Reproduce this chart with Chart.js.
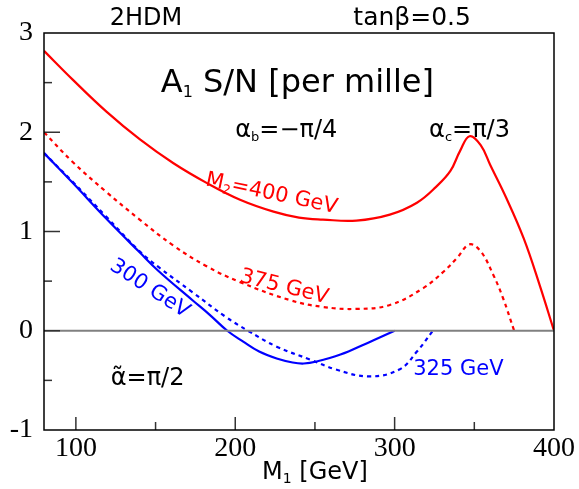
<!DOCTYPE html>
<html>
<head>
<meta charset="utf-8">
<script src="https://cdn.jsdelivr.net/npm/chart.js@4/dist/chart.umd.min.js"></script>
<style>
  body { margin: 0; background: #fff; }
  canvas { display: block; }
</style>
</head>
<body>
<canvas id="grafico" width="579" height="489"></canvas>
<script>
// M1 [GeV] / S/N [per mille]
var m400X = [80, 98, 119, 140, 161, 182, 203, 224, 240, 255, 276, 297, 314, 326, 335, 341, 347, 354, 360, 370, 381, 391, 400];
var m400Y = [2.82, 2.53, 2.21, 1.93, 1.69, 1.49, 1.32, 1.20, 1.14, 1.12, 1.11, 1.17, 1.29, 1.45, 1.61, 1.81, 1.96, 1.87, 1.67, 1.34, 0.93, 0.46, 0];

var m375X = [80, 98, 119, 140, 161, 182, 203, 234, 255, 276, 297, 318, 331, 339, 347, 354, 362, 368, 375];
var m375Y = [2.00, 1.70, 1.40, 1.12, 0.86, 0.65, 0.49, 0.31, 0.24, 0.22, 0.26, 0.43, 0.60, 0.73, 0.87, 0.80, 0.56, 0.33, 0];

var m300X = [80, 98, 119, 140, 152, 173, 184, 195, 205, 215, 226, 236, 243, 251, 266, 282, 300];
var m300Y = [1.79, 1.49, 1.13, 0.79, 0.60, 0.31, 0.16, 0, -0.11, -0.21, -0.28, -0.32, -0.33, -0.31, -0.24, -0.13, 0];

var m325X = [80, 98, 119, 140, 152, 173, 194, 208, 226, 247, 263, 284, 303, 314, 324];
var m325Y = [1.79, 1.50, 1.15, 0.80, 0.64, 0.39, 0.14, 0, -0.16, -0.29, -0.39, -0.46, -0.39, -0.21, 0];

var zeroX = [80, 400];
var zeroY = [0, 0];

var xTicksLabel = [100, 200, 300, 400];
var yTicksLabel = [-1, 0, 1, 2, 3];

function pontos(xs, ys) {
    var arr = [];
    for (var i = 0; i < xs.length; i++) {
        arr.push({ x: xs[i], y: ys[i] });
    }
    return arr;
}

var fonte = "'DejaVu Sans', sans-serif";

// texto com subscritos: runs = [texto, tamanho, deslocamento]
function textoRico(ctx, runs, x, y, ang, cor) {
    var total = 0;
    for (var i = 0; i < runs.length; i++) {
        ctx.font = runs[i][1] + 'px ' + fonte;
        total += ctx.measureText(runs[i][0]).width;
    }
    var base = runs[0][1] * 0.36;
    ctx.save();
    ctx.translate(x, y);
    ctx.rotate(ang * Math.PI / 180);
    ctx.fillStyle = cor;
    ctx.textBaseline = 'alphabetic';
    ctx.textAlign = 'left';
    var px = -total / 2;
    for (var i = 0; i < runs.length; i++) {
        ctx.font = runs[i][1] + 'px ' + fonte;
        ctx.fillText(runs[i][0], px, base + runs[i][2]);
        px += ctx.measureText(runs[i][0]).width;
    }
    ctx.restore();
}

var rotulos = [
    { x: 144, y: 3.17, ang: 0, cor: '#000', runs: [['2HDM', 24, 0]] },
    { x: 311, y: 3.17, ang: 0, cor: '#000', runs: [['tanβ=0.5', 25, 0]] },
    { x: 239, y: 2.52, ang: 0, cor: '#000', runs: [['A', 32, 0], ['1', 16, 5], [' S/N [per mille]', 32, 0]] },
    { x: 232, y: 2.04, ang: 0, cor: '#000', runs: [['α', 24, 0], ['b', 13, 4], ['=−π/4', 24, 0]] },
    { x: 347, y: 2.04, ang: 0, cor: '#000', runs: [['α', 24, 0], ['c', 13, 4], ['=π/3', 24, 0]] },
    { x: 223, y: 1.40, ang: 12, cor: '#ff0000', runs: [['M', 21, 0], ['2', 13, 4], ['=400 GeV', 21, 0]] },
    { x: 231, y: 0.46, ang: 14, cor: '#ff0000', runs: [['375 GeV', 21, 0]] },
    { x: 147, y: 0.44, ang: 33, cor: '#0000ff', runs: [['300 GeV', 21, 0]] },
    { x: 340, y: -0.37, ang: 0, cor: '#0000ff', runs: [['325 GeV', 21, 0]] },
    { x: 145, y: -0.46, ang: 0, cor: '#000', runs: [['α\u0303=π/2', 24, 0]] },
    { x: 250, y: -1.41, ang: 0, cor: '#000', runs: [['M', 24, 0], ['1', 14, 4], [' [GeV]', 24, 0]] }
];

var moldura = {
    id: 'moldura',
    afterDatasetsDraw: function(chart) {
        var ctx = chart.ctx;
        var a = chart.chartArea;
        var sx = chart.scales.x;
        var sy = chart.scales.y;
        ctx.save();
        ctx.strokeStyle = '#333';
        ctx.lineWidth = 1.5;
        // ticks para dentro
        for (var v = 100; v < 400; v += 50) {
            var px = sx.getPixelForValue(v);
            var len = (v % 100 == 0) ? 13 : 8;
            ctx.beginPath();
            ctx.moveTo(px, a.bottom);
            ctx.lineTo(px, a.bottom - len);
            ctx.stroke();
        }
        for (var w = -0.5; w < 3; w += 0.5) {
            var py = sy.getPixelForValue(w);
            var len2 = (w % 1 == 0) ? 16 : 8;
            ctx.beginPath();
            ctx.moveTo(a.left, py);
            ctx.lineTo(a.left + len2, py);
            ctx.stroke();
        }
        ctx.strokeStyle = '#000';
        ctx.lineWidth = 1.5;
        ctx.strokeRect(a.left, a.top, a.right - a.left, a.bottom - a.top);

        for (var i = 0; i < rotulos.length; i++) {
            var r = rotulos[i];
            textoRico(ctx, r.runs, sx.getPixelForValue(r.x), sy.getPixelForValue(r.y), r.ang, r.cor);
        }
        ctx.restore();
    }
};

var ctx = document.getElementById('grafico').getContext('2d');

new Chart(ctx, {
    type: 'scatter',
    data: {
        datasets: [
            { data: pontos(zeroX, zeroY), borderColor: '#808080', borderWidth: 2 },
            { data: pontos(m400X, m400Y), borderColor: '#ff0000', borderWidth: 2.2 },
            { data: pontos(m375X, m375Y), borderColor: '#ff0000', borderWidth: 2.2, borderDash: [4, 4] },
            { data: pontos(m300X, m300Y), borderColor: '#0000ff', borderWidth: 2.2 },
            { data: pontos(m325X, m325Y), borderColor: '#0000ff', borderWidth: 2.2, borderDash: [4, 4] }
        ]
    },
    options: {
        responsive: false,
        animation: false,
        showLine: true,
        layout: { padding: { top: 33, right: 25, left: 0, bottom: 0 } },
        elements: {
            point: { radius: 0 },
            line: { tension: 0.4, fill: false }
        },
        scales: {
            x: {
                type: 'linear',
                min: 80,
                max: 400,
                grid: { display: false, drawTicks: false },
                border: { display: false },
                afterFit: function(s) { s.height = 59; },
                afterBuildTicks: function(s) {
                    s.ticks = xTicksLabel.map(function(v) { return { value: v }; });
                },
                ticks: {
                    autoSkip: false,
                    maxRotation: 0,
                    padding: 2,
                    color: '#000',
                    font: { family: "'Liberation Serif', serif", size: 28 }
                }
            },
            y: {
                min: -1,
                max: 3,
                grid: { display: false, drawTicks: false },
                border: { display: false },
                afterFit: function(s) { s.width = 44; },
                afterBuildTicks: function(s) {
                    s.ticks = yTicksLabel.map(function(v) { return { value: v }; });
                },
                ticks: {
                    padding: 11,
                    color: '#000',
                    font: { family: "'Liberation Serif', serif", size: 28 }
                }
            }
        },
        plugins: {
            legend: { display: false },
            tooltip: { enabled: false }
        }
    },
    plugins: [moldura]
});
</script>
</body>
</html>
